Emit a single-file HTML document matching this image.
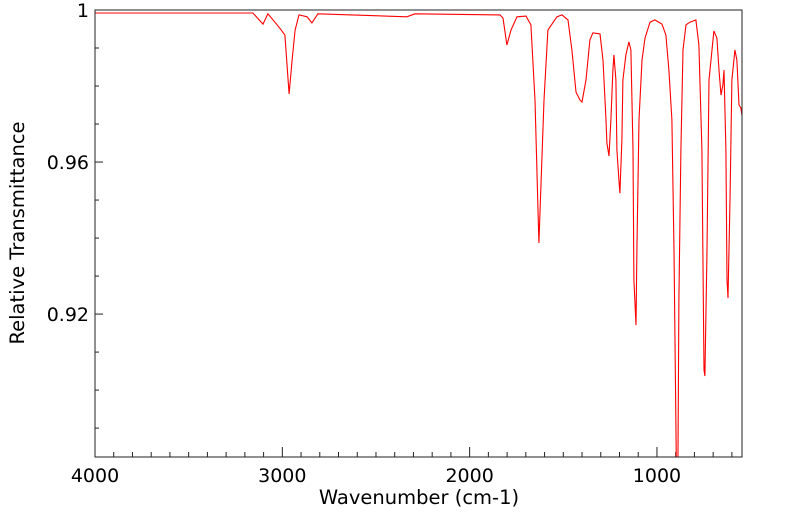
<!DOCTYPE html>
<html><head><meta charset="utf-8"><style>
html,body{margin:0;padding:0;background:#fff;}
svg{display:block;font-family:"DejaVu Sans","Liberation Sans",sans-serif;}
</style></head><body>
<svg id="chart" width="799" height="516" viewBox="0 0 799 516" xmlns="http://www.w3.org/2000/svg">
<defs><clipPath id="clip"><rect x="95" y="10" width="647" height="447"/></clipPath></defs>
<rect x="95" y="10" width="647" height="447" fill="#fff"/>
<g id="ticks"></g>
<path id="line" fill="none" stroke="#ff0000" stroke-width="1.1" clip-path="url(#clip)"/>
<rect x="95" y="10" width="647" height="447" fill="none" stroke="#222" stroke-width="1"/>
<text x="419" y="504" font-size="19.5" text-anchor="middle">Wavenumber (cm-1)</text>
<text x="24" y="233" font-size="19.5" text-anchor="middle" transform="rotate(-90 24 233)">Relative Transmittance</text>
</svg>
<script>
const wavenumbers = [4000,3157,3103,3077,3028,3002,2986,2964,2948,2932,2911,2868,2842,2810,2335,2292,1838,1822,1801,1779,1747,1699,1673,1651,1630,1603,1582,1534,1507,1475,1454,1432,1411,1400,1379,1358,1342,1304,1288,1272,1267,1256,1246,1235,1230,1219,1214,1203,1198,1187,1182,1166,1150,1139,1128,1123,1112,1107,1096,1080,1064,1037,1011,973,952,936,920,909,896,888,883,872,861,845,824,792,776,760,749,744,733,722,706,696,680,669,658,648,642,632,626,621,610,600,589,584,573,562,552,543];
const transmittance = [0.9992,0.9992,0.9963,0.9990,0.9961,0.9945,0.9934,0.9779,0.9868,0.9947,0.9987,0.9982,0.9966,0.9990,0.9982,0.9990,0.9987,0.9979,0.9908,0.9947,0.9982,0.9984,0.9961,0.9763,0.9387,0.9763,0.9947,0.9982,0.9987,0.9974,0.9895,0.9784,0.9763,0.9758,0.9816,0.9921,0.9940,0.9937,0.9868,0.9711,0.9650,0.9616,0.9711,0.9842,0.9882,0.9816,0.9632,0.9553,0.9518,0.9658,0.9816,0.9882,0.9916,0.9895,0.9632,0.9290,0.9171,0.9368,0.9711,0.9868,0.9926,0.9968,0.9974,0.9963,0.9934,0.9842,0.9711,0.9368,0.879,0.879,0.9237,0.9632,0.9895,0.9961,0.9968,0.9974,0.9908,0.9632,0.9053,0.9037,0.9368,0.9816,0.9895,0.9945,0.9926,0.9842,0.9776,0.9803,0.9842,0.9632,0.9290,0.9242,0.9500,0.9816,0.9868,0.9895,0.9868,0.9750,0.9742,0.9711];
const xTickLabels = [4000,3000,2000,1000];
const yTickLabels = [1,0.96,0.92];
const xMin=4000, xMax=546, yMin=0.8824, yMax=1;
const L=95,R=742,T=10,B=457;
function sx(v){return L+(xMin-v)/(xMin-xMax)*(R-L);}
function sy(v){return T+(yMax-v)/(yMax-yMin)*(B-T);}
const NS="http://www.w3.org/2000/svg";
let d="";
for(let i=0;i<wavenumbers.length;i++){d+=(i?"L":"M")+sx(wavenumbers[i]).toFixed(1)+","+sy(transmittance[i]).toFixed(1);}
document.getElementById('line').setAttribute('d',d);
const g=document.getElementById('ticks');
const svg=document.getElementById('chart');
function ln(x1,y1,x2,y2){const l=document.createElementNS(NS,'line');l.setAttribute('x1',x1);l.setAttribute('y1',y1);l.setAttribute('x2',x2);l.setAttribute('y2',y2);l.setAttribute('stroke','#222');l.setAttribute('stroke-width','1');g.appendChild(l);return l;}
for(let w=4000;w>=600;w-=100){const x=sx(w);const major=w%1000===0;const t=ln(x,B,x,B-(major?10:5));

}
for(let k=0;k<=11;k++){const v=1-k*0.01;const y=sy(v);if(y>B)break;const major=(k%4===0);const t=ln(L,y,L+(major?8:4),y);

}
xTickLabels.forEach(v=>{const t=document.createElementNS(NS,'text');t.setAttribute('x',sx(v));t.setAttribute('y',482);t.setAttribute('font-size','19');t.setAttribute('text-anchor','middle');t.textContent=v;


svg.appendChild(t);});
yTickLabels.forEach(v=>{const t=document.createElementNS(NS,'text');t.setAttribute('x',89);t.setAttribute('y',sy(v)+7);t.setAttribute('font-size','19');t.setAttribute('text-anchor','end');t.textContent=v;


svg.appendChild(t);});
</script>
</body></html>
